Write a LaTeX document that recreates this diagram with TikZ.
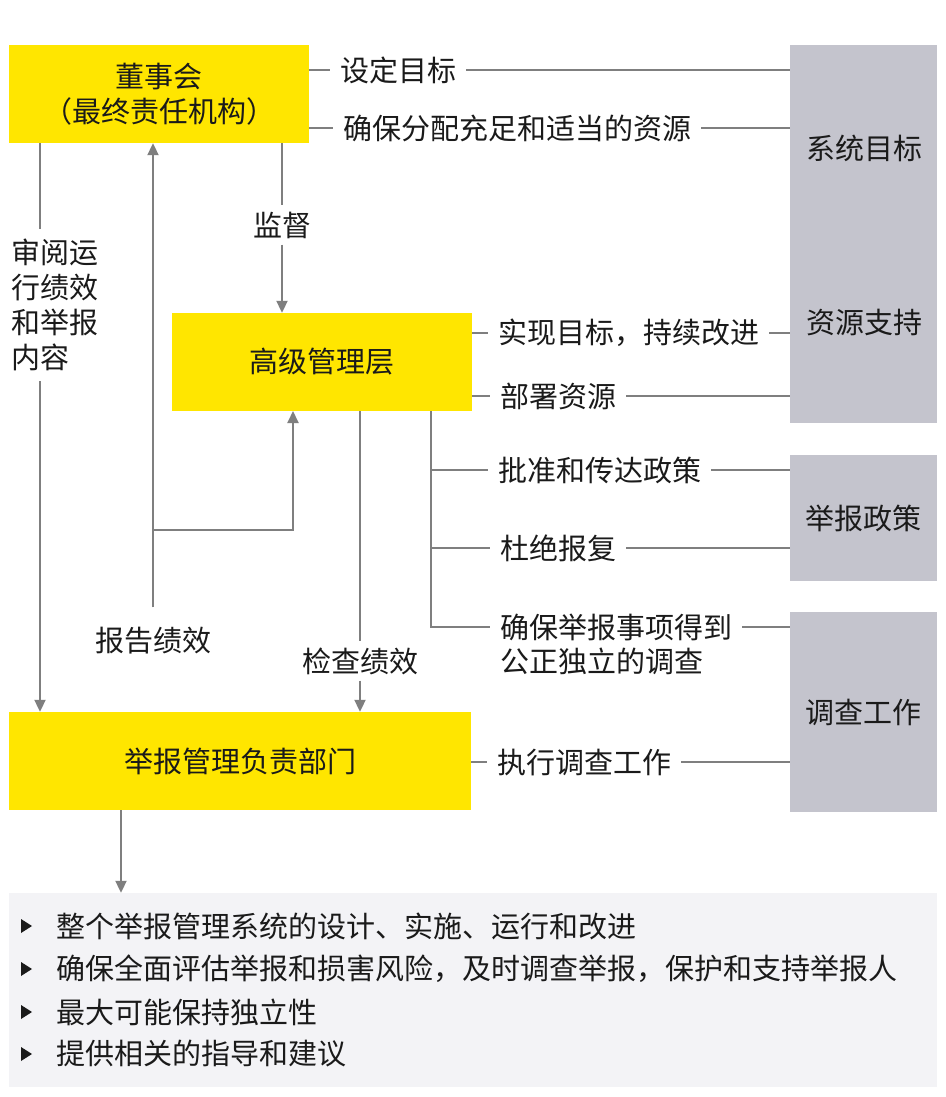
\documentclass[tikz,border=0pt]{standalone}
\usepackage{fontspec}
\setmainfont{Noto Sans CJK SC}
\usetikzlibrary{arrows.meta}
\definecolor{eyyellow}{HTML}{FFE600}
\definecolor{boxgrey}{HTML}{C4C4CD}
\definecolor{listbg}{HTML}{F3F3F6}
\definecolor{linegrey}{HTML}{7F7F7F}
\definecolor{txt}{HTML}{1A1A1A}
\begin{document}
\begin{tikzpicture}[x=1pt,y=-1pt,
 every node/.style={font=\fontsize{29}{35}\selectfont, text=txt},
 ybox/.style={fill=eyyellow, inner sep=0pt, align=center},
 gbox/.style={fill=boxgrey, inner sep=0pt},
 lbl/.style={anchor=west, inner xsep=10pt, inner ysep=0pt},
 mid/.style={inner sep=6pt},
 conn/.style={draw=linegrey, line width=2pt},
 arr/.style={conn, -{Triangle[length=12pt,width=11pt]}}]
\useasboundingbox (0,0) rectangle (945,1097);
\fill[white] (0,0) rectangle (945,1097);

% boxes
\node[ybox, minimum width=300pt, minimum height=98pt] (board) at (159,94) {董事会\\（最终责任机构）};
\node[ybox, minimum width=300pt, minimum height=98pt] (senior) at (322,362) {高级管理层};
\node[ybox, minimum width=462pt, minimum height=98pt] (dept) at (240,761) {举报管理负责部门};
\node[gbox, minimum width=147pt, minimum height=378pt] (g1) at (863.5,234) {};
\node (g1a) at (864,148) {系统目标};
\node (g1b) at (864,323) {资源支持};
\node[gbox, minimum width=147pt, minimum height=126pt] (g2) at (863.5,518) {举报政策};
\node[gbox, minimum width=147pt, minimum height=200pt] (g3) at (863.5,712) {调查工作};
\node[fill=listbg, minimum width=928pt, minimum height=194pt, inner sep=0pt] (list) at (473,990) {};

% list
\foreach \y in {926,969,1012,1054} \fill[txt] (21,\y-7) -- (32,\y) -- (21,\y+7) -- cycle;
\node[anchor=west, inner sep=0pt] (l1) at (56,926) {整个举报管理系统的设计、实施、运行和改进};
\node[anchor=west, inner sep=0pt] (l2) at (56,969) {确保全面评估举报和损害风险，及时调查举报，保护和支持举报人};
\node[anchor=west, inner sep=0pt] (l3) at (56,1012) {最大可能保持独立性};
\node[anchor=west, inner sep=0pt] (l4) at (56,1054) {提供相关的指导和建议};

% right labels
\node[lbl] (t1) at (330,70) {设定目标};
\node[lbl] (t2) at (333,128) {确保分配充足和适当的资源};
\node[lbl] (t3) at (488,333) {实现目标，持续改进};
\node[lbl] (t4) at (490,396) {部署资源};
\node[lbl] (t5) at (488,470) {批准和传达政策};
\node[lbl] (t6) at (490,548) {杜绝报复};
\node[lbl] (t7) at (490,627) {确保举报事项得到};
\node[lbl] (t7b) at (490,661) {公正独立的调查};
\node[lbl] (t8) at (487,762) {执行调查工作};

\draw[conn] (board.east |- t1.west) -- (t1.west);
\draw[conn] (t1.east) -- (t1.east -| g1.west);
\draw[conn] (board.east |- t2.west) -- (t2.west);
\draw[conn] (t2.east) -- (t2.east -| g1.west);
\draw[conn] (senior.east |- t3.west) -- (t3.west);
\draw[conn] (t3.east) -- (t3.east -| g1.west);
\draw[conn] (senior.east |- t4.west) -- (t4.west);
\draw[conn] (t4.east) -- (t4.east -| g1.west);
\coordinate (br) at (431,411);
\draw[conn] (br) |- (t7.west);
\draw[conn] (br |- t5.west) -- (t5.west);
\draw[conn] (br |- t6.west) -- (t6.west);
\draw[conn] (t5.east) -- (t5.east -| g2.west);
\draw[conn] (t6.east) -- (t6.east -| g2.west);
\draw[conn] (t7.east) -- (t7.east -| g3.west);
\draw[conn] (dept.east |- t8.west) -- (t8.west);
\draw[conn] (t8.east) -- (t8.east -| g3.west);

% vertical connectors
\node[mid] (sup) at (282,225) {监督};
\draw[conn] (sup.north |- board.south) -- (sup.north);
\draw[arr] (sup.south) -- (sup.south |- senior.north);
\node[mid] (chk) at (360,661) {检查绩效};
\draw[conn] (chk.north |- senior.south) -- (chk.north);
\draw[arr] (chk.south) -- (chk.south |- dept.north);
\node[inner xsep=6pt, inner ysep=20pt] (rep) at (153,641) {报告绩效};
\draw[arr] (rep.north) -- (rep.north |- board.south);
\coordinate (j) at (153,530);
\coordinate (s1) at (293,411);
\draw[arr] (j) -| (s1);
\node[align=left, inner xsep=0pt, inner ysep=10pt] (rev) at (55,305) {审阅运\\行绩效\\和举报\\内容};
\coordinate (rx) at (40,0);
\draw[conn] (board.south -| rx) -- (rev.north -| rx);
\draw[arr] (rev.south -| rx) -- (dept.north -| rx);
\coordinate (dx) at (121,0);
\draw[arr] (dept.south -| dx) -- (list.north -| dx);
\end{tikzpicture}
\end{document}
